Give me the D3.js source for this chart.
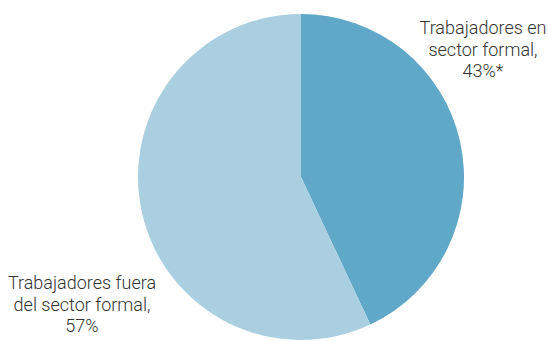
<!DOCTYPE html>
<html><head><meta charset="utf-8">
<script src="https://cdn.jsdelivr.net/npm/d3@7"></script>
<style>html,body{margin:0;padding:0;background:#fff;}</style>
</head><body>
<svg id="c" width="548" height="341"></svg>
<script>
const categories = ["Trabajadores en sector formal", "Trabajadores fuera del sector formal"];
const values = [43, 57];
const labelLines = [["Trabajadores en", "sector formal,", "43%*"], ["Trabajadores fuera", "del sector formal,", "57%"]];
const colors = ["#5fa8c8", "#aacfe0"];

const svg = d3.select("#c");
const cx = 301, cy = 177, r = 163;
const pie = d3.pie().sort(null).value(d => d)(values);
const arc = d3.arc().innerRadius(0).outerRadius(r);
const g = svg.append("g").attr("transform", `translate(${cx},${cy})`);
g.selectAll("path").data(pie).join("path")
  .attr("d", arc).attr("fill", (d,i) => colors[i]);

const labelPos = [[483, 34], [82, 289]];
labelLines.forEach((lines, i) => {
  const t = svg.append("text")
    .attr("x", labelPos[i][0]).attr("y", labelPos[i][1])
    .attr("text-anchor", "middle")
    .attr("font-family", "Roboto, 'Liberation Sans', sans-serif")
    .attr("font-weight", 300)
    .attr("font-size", 18)
    .attr("fill", "#333");
  lines.forEach((l, j) => t.append("tspan").attr("x", labelPos[i][0]).attr("dy", j ? 21.5 : 0).text(l));
});
</script>
</body></html>
